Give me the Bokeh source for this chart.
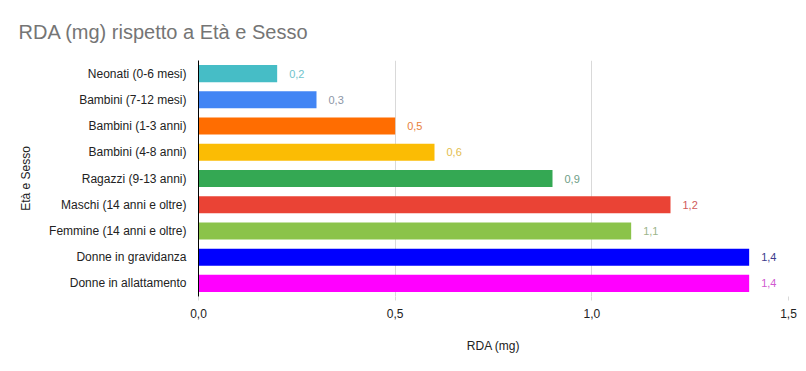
from bokeh.plotting import figure
from bokeh.models import Range1d, FixedTicker, CustomJSTickFormatter, ColumnDataSource
from bokeh.core.properties import value
from bokeh.embed import file_html
from bokeh.resources import INLINE

categories = [
    "Neonati (0-6 mesi)",
    "Bambini (7-12 mesi)",
    "Bambini (1-3 anni)",
    "Bambini (4-8 anni)",
    "Ragazzi (9-13 anni)",
    "Maschi (14 anni e oltre)",
    "Femmine (14 anni e oltre)",
    "Donne in gravidanza",
    "Donne in allattamento",
]
rda_mg = [0.2, 0.3, 0.5, 0.6, 0.9, 1.2, 1.1, 1.4, 1.4]
x_ticks = [0.0, 0.5, 1.0, 1.5]

bar_palette = ["#46bdc6", "#4285f4", "#ff6d01", "#fbbc04", "#34a853",
               "#ea4335", "#8bc34a", "#0000ff", "#ff00ff"]
label_palette = ["#6fc3cc", "#8c96a6", "#e8813a", "#e3bd4e", "#6e9e86",
                 "#cf5a5a", "#9cb58a", "#3c3c8c", "#d05ad0"]

src = ColumnDataSource(dict(
    cat=categories,
    val=rda_mg,
    txt=[f"{v:.1f}".replace(".", ",") for v in rda_mg],
    color=bar_palette,
    lcolor=label_palette,
))

FONT = "Liberation Sans"

p = figure(
    width=798, height=363,
    y_range=list(reversed(categories)),
    x_range=Range1d(0, 1.5),
    output_backend="svg", toolbar_location=None,
    min_border_left=198, min_border_right=10,
    min_border_top=60, min_border_bottom=67,
)
p.outline_line_color = None
p.background_fill_color = "white"
p.border_fill_color = "white"

p.title.text = "RDA (mg) rispetto a Età e Sesso"
p.title.align = "left"
p.title.offset = -180
p.title.text_font = FONT
p.title.text_font_size = "20px"
p.title.text_font_style = "normal"
p.title.text_color = "#757575"
p.title.standoff = 36

p.hbar(y="cat", left=0, right="val", height=0.65, fill_color="color",
       line_color=None, source=src)
p.text(x="val", y="cat", text="txt", x_offset=12, text_baseline="middle",
       text_align="left", text_font=value(FONT), text_font_size="11px",
       text_color="lcolor", source=src)

p.xaxis.ticker = FixedTicker(ticks=x_ticks)
p.xaxis.formatter = CustomJSTickFormatter(code="return tick.toFixed(1).replace('.', ',');")
p.xaxis.axis_line_color = None
p.xaxis.major_tick_in = 0
p.xaxis.major_tick_out = 4
p.xaxis.major_tick_line_color = "#d9d9d9"
p.xaxis.minor_tick_line_color = None
p.xaxis.major_label_standoff = 8
p.xaxis.major_label_text_font = FONT
p.xaxis.major_label_text_font_size = "12px"
p.xaxis.major_label_text_color = "#222222"
p.xaxis.axis_label = "RDA (mg)"
p.xaxis.axis_label_text_font = FONT
p.xaxis.axis_label_text_font_size = "12px"
p.xaxis.axis_label_text_font_style = "normal"
p.xaxis.axis_label_text_color = "#222222"
p.xaxis.axis_label_standoff = 18

p.yaxis.axis_line_color = "#000000"
p.yaxis.major_tick_line_color = None
p.yaxis.minor_tick_line_color = None
p.yaxis.major_label_standoff = 6
p.yaxis.major_label_text_font = FONT
p.yaxis.major_label_text_font_size = "12px"
p.yaxis.major_label_text_color = "#222222"
p.yaxis.axis_label = "Età e Sesso"
p.yaxis.axis_label_text_font = FONT
p.yaxis.axis_label_text_font_size = "12px"
p.yaxis.axis_label_text_font_style = "normal"
p.yaxis.axis_label_text_color = "#222222"
p.yaxis.axis_label_standoff = 13

p.xgrid.grid_line_color = "#d9d9d9"
p.ygrid.grid_line_color = None
p.y_range.range_padding = 0

open("out.html", "w").write(file_html(p, INLINE))
